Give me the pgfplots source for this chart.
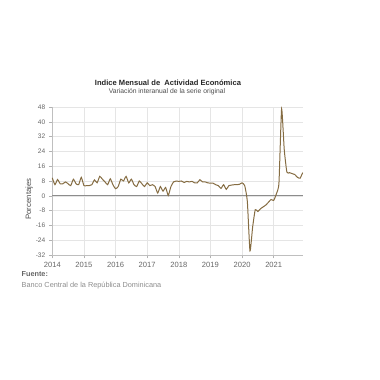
\documentclass[border=0pt]{standalone}
\usepackage{pgfplots}
\pgfplotsset{compat=1.18}
\usepackage{pgfplotstable}
\usepackage{fontspec}
\setmainfont{Liberation Sans}
\definecolor{linec}{RGB}{133,108,66}
\definecolor{ticklab}{RGB}{102,102,102}
\pgfplotstableread{
k v
0 9.7
1 6
2 8.8
3 6.5
4 6.5
5 7.5
6 6.5
7 5.5
8 9
9 6.5
10 6
11 10
12 5.5
13 5.5
14 5.5
15 6
16 8.6
17 7
18 10.5
19 9
20 7.5
21 6
22 9.2
23 6
24 3.8
25 5
26 9
27 8
28 10.5
29 7
30 9
31 6
32 5
33 8
34 6.5
35 5
36 7
37 5.5
38 6
39 5
40 1.5
41 5
42 2.5
43 4.5
44 0.2
45 5
46 7.5
47 8
48 7.8
49 8
50 7.2
51 7.8
52 7.5
53 7.8
54 7
55 7
56 8.7
57 7.5
58 7.5
59 7
60 6.8
61 6.8
62 6
63 5.5
64 4
65 6
66 3.5
67 5.5
68 5.8
69 6
70 6
71 6.2
72 7
73 5.5
74 -3
75 -29.8
76 -17
77 -7.5
78 -8.5
79 -7
80 -6
81 -5
82 -3.5
83 -2
84 -2.5
85 1
86 7
87 47
88 25
89 12.8
90 12.5
91 12
92 11.5
93 10
94 9.5
95 12.5
}\imae
\begin{document}
\begin{tikzpicture}[x=1bp,y=1bp]
\useasboundingbox (0,0) rectangle (380,380);
\node[font=\bfseries\fontsize{7.6}{9}\selectfont, text=black!85] at (168,297) {Indice Mensual de\ \ Actividad Económica};
\node[font=\fontsize{6.8}{8}\selectfont, text=black!70] at (167,288) {Variación interanual de la serie original};
\node[font=\fontsize{7.8}{9}\selectfont, text=black!70, rotate=90] at (29,181) {Porcentajes};
\begin{axis}[at={(52.3bp,125bp)}, anchor=south west, scale only axis,
  width=250.4bp, height=148bp,
  xmin=2014, xmax=2021.9167, ymin=-32, ymax=48,
  xtick={2014,...,2021}, ytick={-32,-24,...,48},
  /pgf/number format/assume math mode=true,
  /pgf/number format/1000 sep={},
  xticklabel style={font=\fontsize{7.6}{8}\selectfont, text=ticklab},
  yticklabel style={font=\fontsize{6.6}{7}\selectfont, text=ticklab},
  grid=major, major grid style={draw=black!10, line width=0.5bp},
  axis x line*=bottom, axis y line*=left,
  axis line style={draw=black!25, -},
  tick style={draw=black!30, line width=0.5bp},
  tick align=outside, major tick length=3.5bp,
  clip=false,
]
\addplot[black!45, line width=0.8bp] coordinates {(2014,0) (2021.9167,0)};
\addplot[linec, line width=1bp, smooth, tension=0.3] table[x expr=2014+\thisrow{k}/12, y=v] {\imae};
\end{axis}
\node[anchor=west, inner sep=0, font=\bfseries\fontsize{7.3}{8}\selectfont, text=black!60] at (21.5,106) {Fuente:};
\node[anchor=west, inner sep=0, font=\fontsize{7.35}{8}\selectfont, text=black!45] at (21.5,94) {Banco Central de la República Dominicana};
\end{tikzpicture}
\end{document}
